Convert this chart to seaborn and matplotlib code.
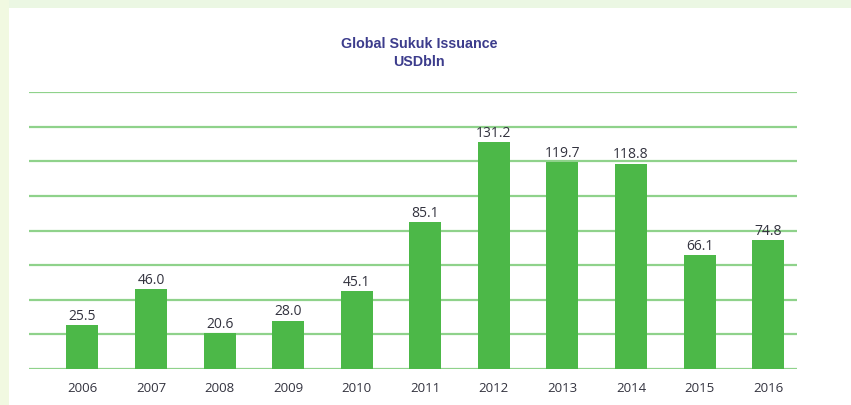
import matplotlib
matplotlib.use("Agg")
import matplotlib.pyplot as plt
import seaborn as sns
from matplotlib.patches import Rectangle

years = ["2006", "2007", "2008", "2009", "2010", "2011", "2012", "2013", "2014", "2015", "2016"]
values = [25.5, 46.0, 20.6, 28.0, 45.1, 85.1, 131.2, 119.7, 118.8, 66.1, 74.8]
grid_ticks = [0, 20, 40, 60, 80, 100, 120, 140, 160]

sns.set_theme(style="white")
plt.rcParams['font.family'] = ['Open Sans', 'DejaVu Sans']

W, H = 851, 406
fig = plt.figure(figsize=(W / 100, H / 100), dpi=100)
fig.patch.set_facecolor("white")
fig.patches.append(Rectangle((0, 1 - 9 / H), 1, 9 / H, transform=fig.transFigure,
                             facecolor="#ebf7e3", edgecolor="none", zorder=0))
fig.patches.append(Rectangle((0, 0), 9 / W, 1, transform=fig.transFigure,
                             facecolor="#f1f9e1", edgecolor="none", zorder=0))

ax = fig.add_axes([29 / W, 36 / H, (797 - 29) / W, (370 - 93.3) / H])
ax.set_facecolor("none")
sns.barplot(x=years, y=values, color="#4cb848", width=0.467, saturation=1,
            ax=ax, zorder=3, linewidth=0, edgecolor="none")
ax.set_xlim(-0.78, 10.42)
ax.set_ylim(0, 160)
ax.set_yticks(grid_ticks)
ax.yaxis.grid(True, color="#8fd28b", lw=1.6)
ax.set_axisbelow(True)
ax.set_yticklabels([])
ax.tick_params(axis="y", length=0)
ax.tick_params(axis="x", length=0, pad=8.5, labelsize=9.5, labelcolor="#33333f")
ax.set_xlabel("")
ax.set_ylabel("")
for s in ax.spines.values():
    s.set_visible(False)

ax.bar_label(ax.containers[0], fmt="%.1f", padding=1.5, fontsize=10, color="#33333f")

title_font = ["Liberation Sans", "DejaVu Sans"]
fig.text(419 / W, 1 - 44 / H, "Global Sukuk Issuance", ha="center", va="center",
         fontsize=10.3, fontweight="bold", color="#3c3c8c", family=title_font)
fig.text(419 / W, 1 - 62 / H, "USDbln", ha="center", va="center",
         fontsize=10.3, fontweight="bold", color="#3c3c8c", family=title_font)

fig.savefig("out.png", dpi=100)
